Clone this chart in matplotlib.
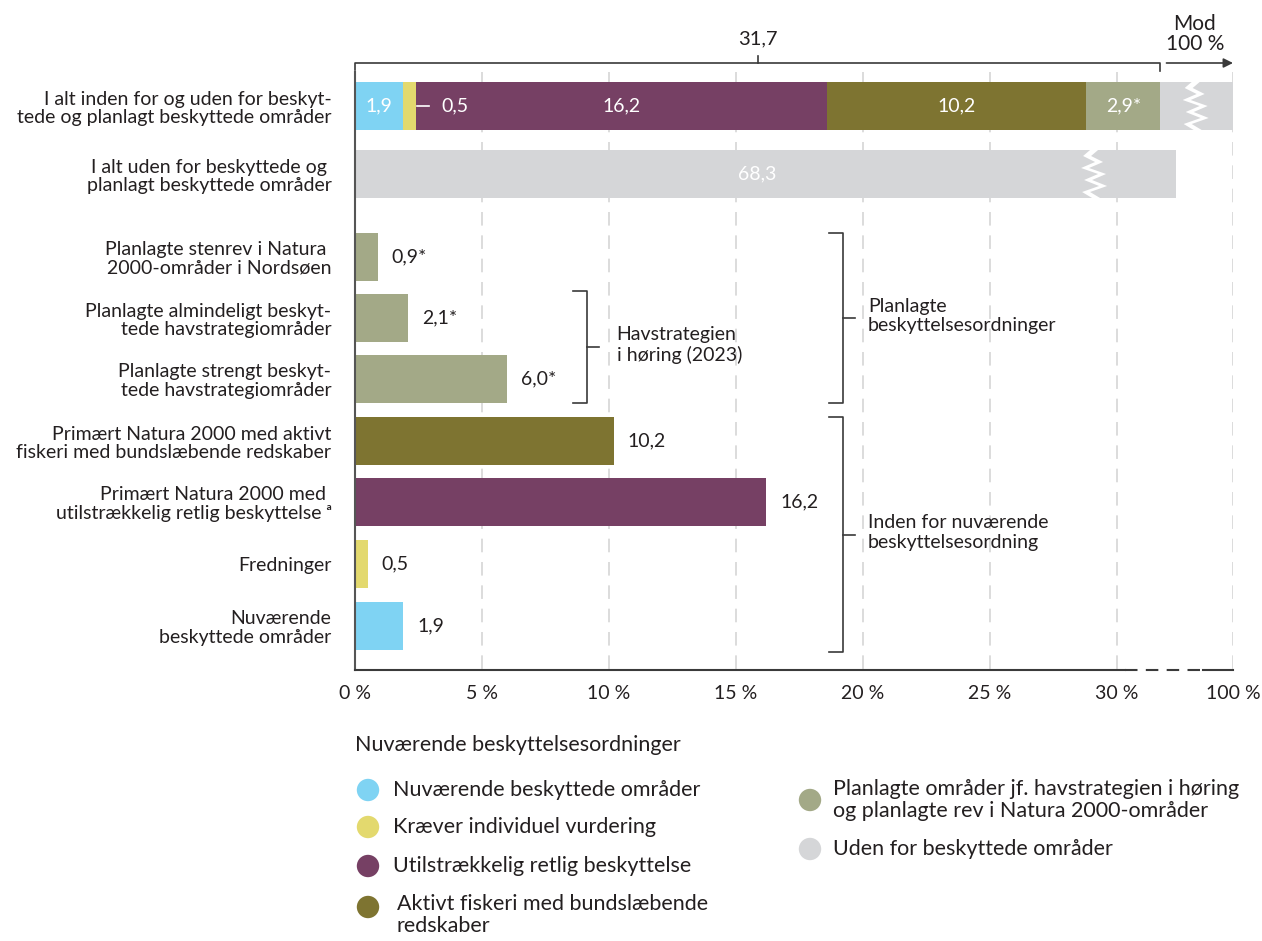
import numpy as np
import matplotlib.pyplot as plt
from matplotlib import transforms

plt.rcParams['font.family'] = ['Lato', 'DejaVu Sans']
plt.rcParams['font.size'] = 14

# --- data ---
kategorier = [
    "I alt inden for og uden for beskyt-\ntede og planlagt beskyttede områder",
    "I alt uden for beskyttede og \nplanlagt beskyttede områder",
    "Planlagte stenrev i Natura \n2000-områder i Nordsøen",
    "Planlagte almindeligt beskyt-\ntede havstrategiområder",
    "Planlagte strengt beskyt-\ntede havstrategiområder",
    "Primært Natura 2000 med aktivt\nfiskeri med bundslæbende redskaber",
    "Primært Natura 2000 med \nutilstrækkelig retlig beskyttelse ᵃ",
    "Fredninger",
    "Nuværende\nbeskyttede områder",
]

# samlet bar (øverst)
total_dele = [1.9, 0.5, 16.2, 10.2, 2.9]
total_tekst = ["1,9", "0,5", "16,2", "10,2", "2,9*"]
total_beskyttet = 31.7
uden_for = 68.3

# enkelte bars
enkelt_vaerdier = [0.9, 2.1, 6.0, 10.2, 16.2, 0.5, 1.9]
enkelt_tekst = ["0,9*", "2,1*", "6,0*", "10,2", "16,2", "0,5", "1,9"]

x_ticks = [0, 5, 10, 15, 20, 25, 30, 100]
x_tick_tekst = ["0 %", "5 %", "10 %", "15 %", "20 %", "25 %", "30 %", "100 %"]

legend_venstre = ["Nuværende beskyttede områder", "Kræver individuel vurdering",
                  "Utilstrækkelig retlig beskyttelse",
                  "Aktivt fiskeri med bundslæbende\nredskaber"]
legend_hoejre = ["Planlagte områder jf. havstrategien i høring\nog planlagte rev i Natura 2000-områder",
                 "Uden for beskyttede områder"]

# --- farver ---
c_blaa = '#7fd3f3'
c_gul = '#e3d96e'
c_lilla = '#764064'
c_oliven = '#7e7431'
c_salvie = '#a3a987'
c_graa = '#d5d6d8'
c_tekst = '#231f20'
c_linje = '#3a3a3a'

farver_total = [c_blaa, c_gul, c_lilla, c_oliven, c_salvie]
farver_enkelt = [c_salvie, c_salvie, c_salvie, c_oliven, c_lilla, c_gul, c_blaa]

# knækket akse: lineær op til 31,7, derefter sammenpresset mod 100
knaek_v = np.array([0, 31.7, 68.3, 100])
knaek_u = np.array([0, 31.7, 32.32, 34.57])


def frem(v):
    return np.interp(v, knaek_v, knaek_u)


def tilbage(u):
    return np.interp(u, knaek_u, knaek_v)


# --- layout (y i pixel-enheder) ---
y_pos = [106, 174, 257, 318, 379, 441, 502, 564, 626]
bar_h = 48

fig = plt.figure(figsize=(12.62, 9.41), dpi=100, facecolor='white')
ax = fig.add_axes([355 / 1262, 1 - 670 / 941, 878 / 1262, 600 / 941])
ax.set_facecolor('none')
ax.set_xscale('function', functions=(frem, tilbage))
ax.set_xlim(0, 100)
ax.set_ylim(670, 70)

# gitterlinjer
for x in x_ticks[1:]:
    ax.vlines(x, 72, 670, colors='#dcdcdc', linestyles=(0, (7, 5)), lw=1.4, zorder=0)

# samlet bar
venstre = 0
for v, c, t in zip(total_dele, farver_total, total_tekst):
    ax.barh(y_pos[0], v, left=venstre, height=bar_h, color=c, zorder=2)
    if t == "0,5":
        ax.plot([venstre + v + 0.05, tilbage(2.9)], [y_pos[0]] * 2, color='white', lw=1.2, zorder=3)
        ax.text(tilbage(3.4), y_pos[0], t, color='white', ha='left', va='center', zorder=3)
    else:
        ax.text(venstre + v / 2, y_pos[0], t, color='white', ha='center', va='center', zorder=3)
    venstre += v
ax.barh(y_pos[0], 100 - venstre, left=venstre, height=bar_h, color=c_graa, zorder=2)

# uden for beskyttede
ax.barh(y_pos[1], uden_for, height=bar_h, color=c_graa, zorder=2)
ax.text(total_beskyttet / 2, y_pos[1], "68,3", color='white', ha='center', va='center', zorder=3)

# enkelte bars
for y, v, c, t in zip(y_pos[2:], enkelt_vaerdier, farver_enkelt, enkelt_tekst):
    ax.barh(y, v, height=bar_h, color=c, zorder=2)
    ax.annotate(t, (v, y), xytext=(10, 0), textcoords='offset points',
                ha='left', va='center', color=c_tekst)


# zigzag-knæk i de grå bars
def zigzag(v, yc):
    ax_x = ax.transAxes.inverted().transform(ax.transData.transform((v, yc)))[0]
    px = 1 / 878
    dy = np.linspace(-bar_h / 2, bar_h / 2, 9)
    z = np.array([0, -7, 5, -9, 8, -6, 9, -8, 2])
    pts = [(ax_x + (zz - 4) * px, yc + d) for zz, d in zip(z, dy)]
    pts += [(ax_x + (zz + 4) * px, yc + d) for zz, d in zip(z[::-1], dy[::-1])]
    tr = transforms.blended_transform_factory(ax.transAxes, ax.transData)
    ax.add_patch(plt.Polygon(pts, closed=True, facecolor='white', edgecolor='none',
                             transform=tr, zorder=4))


zigzag(tilbage(33.1), y_pos[0])
zigzag(tilbage(29.1), y_pos[1])

# akser
ax.set_yticks(y_pos, kategorier)
ax.set_xticks(x_ticks, x_tick_tekst)
ax.tick_params(axis='both', length=0, colors=c_tekst, labelsize=14)
ax.tick_params(axis='y', pad=17)
ax.tick_params(axis='x', pad=11)
for lab in ax.get_yticklabels():
    lab.set_linespacing(1.1)
for s in ['top', 'right', 'bottom']:
    ax.spines[s].set_visible(False)
ax.spines['left'].set_color('#555555')
ax.spines['left'].set_linewidth(1.5)
ax.spines['left'].set_bounds(670, 72)

# bundlinje med knæk
ax.plot([0, tilbage(30.3)], [670, 670], color=c_linje, lw=1.5, clip_on=False, zorder=5)
ax.plot([tilbage(30.3), tilbage(33.4)], [670, 670], color=c_linje, lw=1.5,
        linestyle=(0, (6, 4)), clip_on=False, zorder=5)
ax.plot([tilbage(33.4), 100], [670, 670], color=c_linje, lw=1.5, clip_on=False, zorder=5)

# øverste klamme 31,7
ax.plot([0, 0, total_beskyttet, total_beskyttet], [70, 63, 63, 71], color=c_linje, lw=1.2, clip_on=False)
ax.plot([total_beskyttet / 2] * 2, [63, 56], color=c_linje, lw=1.2, clip_on=False)
ax.text(total_beskyttet / 2, 39, "31,7", ha='center', va='center', color=c_tekst, fontsize=14.5)
ax.annotate('', xy=(100, 63), xytext=(tilbage(31.95), 63), annotation_clip=False,
            arrowprops=dict(arrowstyle='-|>', color=c_linje, lw=1.2, mutation_scale=14,
                            shrinkA=0, shrinkB=0))
ax.text(tilbage(33.07), 34, "Mod\n100 %", ha='center', va='center', color=c_tekst,
        fontsize=15, linespacing=1.05)


# klammer
def klamme(u_lodret, y0, y1, tekst, u_tekst):
    u_v = tilbage(u_lodret)
    ax.plot([tilbage(u_lodret - 0.55), u_v, u_v, tilbage(u_lodret - 0.55)], [y0, y0, y1, y1],
            color=c_linje, lw=1.2, zorder=3)
    ym = (y0 + y1) / 2
    ax.plot([u_v, tilbage(u_lodret + 0.47)], [ym, ym], color=c_linje, lw=1.2, zorder=3)
    ax.text(tilbage(u_tekst), ym - 2, tekst, ha='left', va='center', color=c_tekst, linespacing=1.15)


klamme(9.13, 291, 403, "Havstrategien\ni høring (2023)", 10.3)
klamme(19.2, 233, 403, "Planlagte\nbeskyttelsesordninger", 20.2)
klamme(19.2, 417, 652, "Inden for nuværende\nbeskyttelsesordning", 20.2)

# --- legende ---
lx = fig.add_axes([0, 0, 1, 1])
lx.set_xlim(0, 1262)
lx.set_ylim(941, 0)
lx.axis('off')
fs_leg = 15.5
lx.text(355, 745, "Nuværende beskyttelsesordninger", ha='left', va='center', color=c_tekst, fontsize=fs_leg)
for yy, navn, c, tx in zip([790, 827, 866, 907], legend_venstre, farver_total[:4], [393, 393, 393, 397]):
    lx.scatter([368], [yy], s=260, color=c, edgecolors='none')
    if '\n' in navn:
        lx.text(tx, yy - 13, navn, ha='left', va='top', color=c_tekst, linespacing=1.1, fontsize=fs_leg)
    else:
        lx.text(tx, yy, navn, ha='left', va='center', color=c_tekst, fontsize=fs_leg)
for yy, navn, c in zip([800, 849], legend_hoejre, [c_salvie, c_graa]):
    lx.scatter([810], [yy], s=260, color=c, edgecolors='none')
    lx.text(833, yy, navn, ha='left', va='center', color=c_tekst, linespacing=1.1, fontsize=fs_leg)

fig.savefig('out.png', dpi=100, facecolor='white')
